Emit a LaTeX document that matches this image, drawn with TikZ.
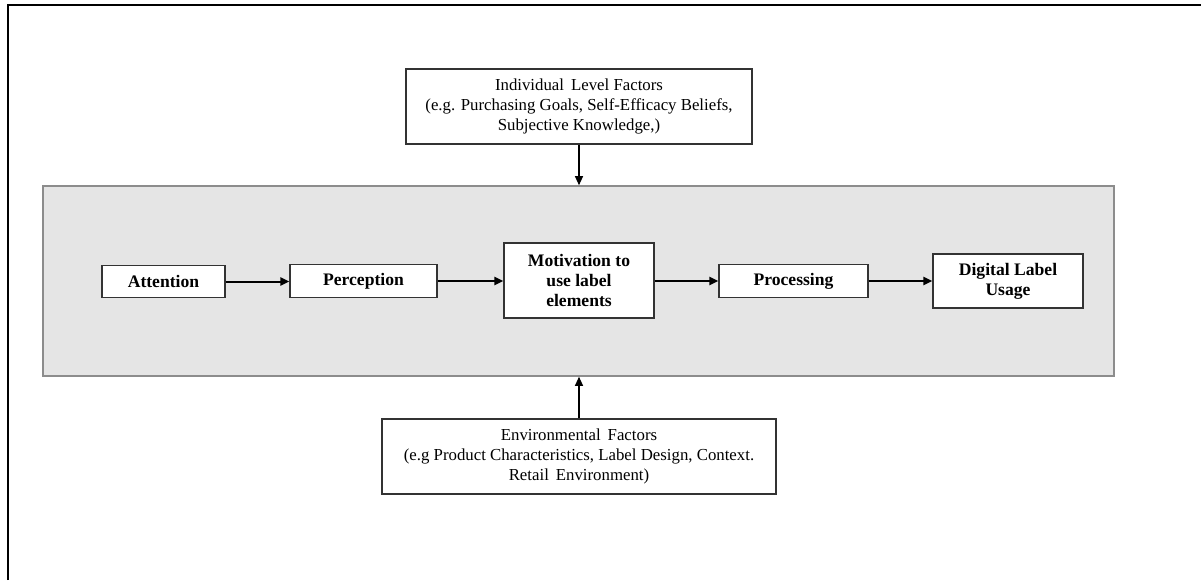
\documentclass[tikz,border=0pt]{standalone}
\usepackage{fontspec}
\setmainfont{Liberation Serif}
\usetikzlibrary{arrows.meta}
\begin{document}
\begin{tikzpicture}[x=0.5pt,y=-0.5pt,
  box/.style={draw=black!80,line width=0.6pt,fill=white,rectangle,align=center,inner sep=0pt},
  stepbox/.style={box,font=\fontsize{8.8}{10}\selectfont\bfseries},
  factorbox/.style={box,font=\fontsize{8.4}{9.8}\selectfont},
  arr/.style={line width=1pt,-{Triangle[length=4.5pt,width=4pt]}},
  varr/.style={line width=0.55pt,-{Triangle[length=4.5pt,width=4pt]}}]
\useasboundingbox (0,0) rectangle (1201,580);
\fill[white] (0,0) rectangle (1201,580);
% outer frame (only top and left visible)
\draw[line width=1pt,black] (7.5,580) -- (7.5,5) -- (1201,5);
% gray panel
\node[draw=black!45,line width=0.8pt,fill=black!10,minimum width=535.5pt,minimum height=95pt,inner sep=0pt] (panel) at (578.5,281) {};
% steps
\node[stepbox,minimum width=61.5pt,minimum height=16pt] (att) at (163.5,281.5) {Attention};
\node[stepbox,minimum width=73.5pt,minimum height=16.5pt] (per) at (363.5,281) {Perception};
\node[stepbox,minimum width=75pt,minimum height=37.5pt] (mot) at (579,280.5) {Motivation to\\use label\\elements};
\node[stepbox,minimum width=74.5pt,minimum height=16.5pt] (pro) at (793.5,281) {Processing};
\node[stepbox,minimum width=75pt,minimum height=27pt] (dig) at (1008,281) {Digital Label\\Usage};
% factor boxes
\node[factorbox,minimum width=173pt,minimum height=37.5pt] (ind) at (579,106.5) {Individual\, Level Factors\\(e.g. Purchasing Goals, Self-Efficacy Beliefs,\\Subjective Knowledge,)};
\node[factorbox,minimum width=197pt,minimum height=37.5pt] (env) at (579,456.5) {Environmental\, Factors\\(e.g Product Characteristics, Label Design, Context.\\Retail\, Environment)};
% connectors
\draw[arr] (att.east) -- (per.west |- att.east);
\draw[arr] (per.east) -- (mot.west |- per.east);
\draw[arr] (mot.east |- pro.west) -- (pro.west);
\draw[arr] (pro.east) -- (dig.west |- pro.east);
\draw[varr] (ind.south) -- (ind.south |- panel.north);
\draw[varr] (env.north) -- (env.north |- panel.south);
\end{tikzpicture}
\end{document}
